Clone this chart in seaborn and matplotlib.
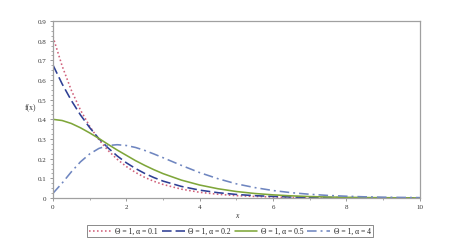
import numpy as np
import pandas as pd
import matplotlib
matplotlib.use("Agg")
import matplotlib.pyplot as plt
from matplotlib.ticker import MultipleLocator
import seaborn as sns

x_vals = [0, 0.25, 0.5, 0.75, 1, 1.25, 1.5, 1.75, 2, 2.25, 2.5, 2.75, 3, 3.5, 4, 4.5,
          5, 5.5, 6, 6.5, 7, 7.5, 8, 8.5, 9, 9.5, 10]
f_a01 = [0.820, 0.671, 0.548, 0.447, 0.365, 0.297, 0.242, 0.197, 0.160, 0.130, 0.105, 0.085,
         0.069, 0.045, 0.029, 0.019, 0.012, 0.008, 0.005, 0.003, 0.002, 0.0014, 0.0009,
         0.0006, 0.0004, 0.0002, 0.0001]
f_a02 = [0.676, 0.580, 0.496, 0.422, 0.358, 0.302, 0.255, 0.214, 0.179, 0.150, 0.125, 0.104,
         0.086, 0.059, 0.040, 0.027, 0.018, 0.012, 0.008, 0.005, 0.0035, 0.0023, 0.0015,
         0.0010, 0.0007, 0.0004, 0.0003]
f_a05 = [0.400, 0.394, 0.379, 0.357, 0.331, 0.303, 0.273, 0.244, 0.217, 0.190, 0.166, 0.144,
         0.124, 0.091, 0.066, 0.047, 0.033, 0.023, 0.016, 0.011, 0.0074, 0.0050, 0.0034,
         0.0022, 0.0015, 0.0010, 0.0007]
f_a4 = [0.024, 0.076, 0.133, 0.184, 0.224, 0.252, 0.267, 0.271, 0.267, 0.257, 0.242, 0.224,
        0.205, 0.166, 0.129, 0.098, 0.072, 0.053, 0.038, 0.027, 0.019, 0.013, 0.009,
        0.006, 0.004, 0.003, 0.002]
labels = ["Θ = 1, α = 0.1", "Θ = 1, α = 0.2", "Θ = 1, α = 0.5", "Θ = 1, α = 4"]
x_ticks = [0, 2, 4, 6, 8, 10]
y_ticks = [0, 0.1, 0.2, 0.3, 0.4, 0.5, 0.6, 0.7, 0.8, 0.9]

sns.set_style("white")
plt.rcParams['font.family'] = ['Liberation Serif', 'DejaVu Serif']

fig = plt.figure(figsize=(4.49, 2.53), dpi=100)
ax = fig.add_axes([0.118, 0.2134, 0.817, 0.6996])

colors = ["#d0607a", "#2e3f94", "#7fa63a", "#6f86c0"]
styles = [(0, (1, 1.5)), (0, (6, 2.5)), "-", (0, (6, 2.5, 1.2, 2.5))]
series = [f_a01, f_a02, f_a05, f_a4]
for ys, lab, c, ls in zip(series, labels, colors, styles):
    df = pd.DataFrame({"x": x_vals, "f": ys})
    sns.lineplot(data=df, x="x", y="f", ax=ax, color=c, linestyle=ls, linewidth=1.15,
                 label=lab)

ax.set_xlim(0, 10)
ax.set_ylim(0, 0.9)
ax.set_xticks(x_ticks)
ax.set_xticklabels([str(t) for t in x_ticks])
ax.set_yticks(y_ticks)
ax.set_yticklabels(["0"] + [f"{t:.1f}" for t in y_ticks[1:]])
ax.xaxis.set_minor_locator(MultipleLocator(1))
ax.yaxis.set_minor_locator(MultipleLocator(0.025))
ax.tick_params(axis="both", which="major", labelsize=5, length=2.5, width=0.6,
               color="#888888", labelcolor="#333333", pad=2, direction="out",
               bottom=True, left=True)
ax.tick_params(axis="both", which="minor", length=1.5, width=0.5, color="#888888",
               direction="out", bottom=True, left=True)
for s in ax.spines.values():
    s.set_color("#a0a0a0")
    s.set_linewidth(0.9)

ax.set_xlabel("x", fontsize=5.5, fontstyle="italic", labelpad=1, color="#333333")
ax.set_ylabel("f(x)", fontsize=5.5, rotation=0, color="#333333")
ax.yaxis.set_label_coords(-0.062, 0.49)

leg = ax.legend(loc="upper center", bbox_to_anchor=(0.482, -0.152), ncol=4, fontsize=5.5,
                frameon=True, fancybox=False, edgecolor="#555555", handlelength=3.0,
                handletextpad=0.45, columnspacing=0.5, borderpad=0.3, borderaxespad=0)
leg.get_frame().set_linewidth(0.6)
for t in leg.get_texts():
    t.set_color("#222222")

fig.savefig("out.png", dpi=100, facecolor="white")
